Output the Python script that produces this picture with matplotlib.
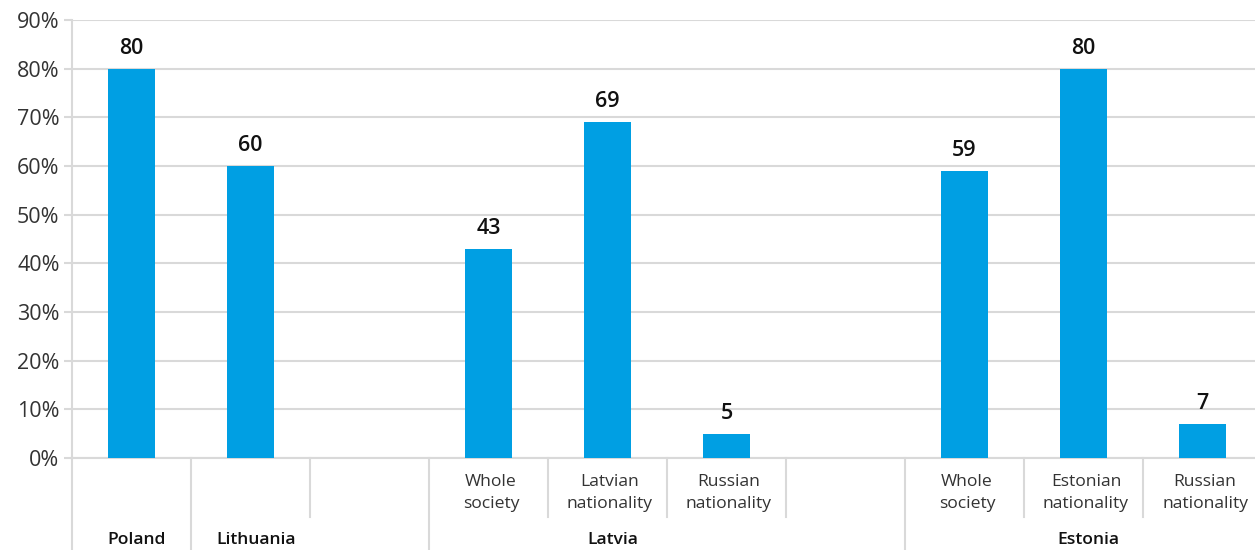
import matplotlib
matplotlib.use("Agg")
import matplotlib.pyplot as plt
import matplotlib.transforms as mtransforms

plt.rcParams['font.family'] = ['Open Sans', 'DejaVu Sans']

# Data
sub_labels = ["", "", "", "Whole\nsociety", "Latvian\nnationality", "Russian\nnationality",
              "", "Whole\nsociety", "Estonian\nnationality", "Russian\nnationality"]
values = [80, 60, None, 43, 69, 5, None, 59, 80, 7]
group_labels = ["Poland", "Lithuania", "Latvia", "Estonia"]
group_label_pos = [0.04, 1.05, 4.04, 8.04]
full_separators = [-0.5, 0.5, 2.5, 6.5]
short_separators = [1.5, 3.5, 4.5, 5.5, 7.5, 8.5]
yticks = [0, 10, 20, 30, 40, 50, 60, 70, 80, 90]

bar_color = "#009FE3"
grid_color = "#d9d9d9"

W, H = 1255, 550
fig = plt.figure(figsize=(W / 100, H / 100), dpi=100)
ax = fig.add_axes([72 / W, 1 - 458 / H, 1 - 72 / W, (458 - 20) / H])

xs = list(range(len(values)))
for x, v in zip(xs, values):
    if v is None:
        continue
    ax.bar(x, v, width=0.40, color=bar_color, zorder=3)
    ax.annotate(f"{v}", (x, v), xytext=(0, 7), textcoords="offset points",
                ha="center", va="bottom", fontsize=15.5, fontweight="semibold", color="#111111")

ax.set_ylim(0, 90)
ax.set_xlim(-0.5, 9.44)
ax.set_yticks(yticks)
ax.set_yticklabels([f"{t}%" for t in yticks], fontsize=15.5, color="#333333")
ax.set_xticks([])
ax.yaxis.grid(True, color=grid_color, linewidth=1.5, zorder=0)
ax.set_axisbelow(True)
for s in ["top", "right"]:
    ax.spines[s].set_visible(False)
ax.spines["left"].set_color(grid_color)
ax.spines["left"].set_linewidth(1.5)
ax.spines["bottom"].set_color(grid_color)
ax.spines["bottom"].set_linewidth(1.5)
ax.tick_params(axis="y", length=6, width=1.5, color=grid_color, pad=3)

trans = mtransforms.blended_transform_factory(ax.transData, ax.transAxes)
ax_h = 438.0
y_short = -(517 - 458) / ax_h
y_full = -(552 - 458) / ax_h
for xs_ in full_separators:
    ax.plot([xs_, xs_], [0, y_full], transform=trans, color=grid_color, lw=1.5, clip_on=False)
for xs_ in short_separators:
    ax.plot([xs_, xs_], [0, y_short], transform=trans, color=grid_color, lw=1.5, clip_on=False)

for x, lab in zip(xs, sub_labels):
    if lab:
        ax.text(x + 0.02, -(493 - 458) / ax_h, lab, transform=trans, ha="center", va="center",
                fontsize=12.6, color="#333333", linespacing=1.55)

for pos, lab in zip(group_label_pos, group_labels):
    ax.text(pos, -(540 - 458) / ax_h, lab, transform=trans, ha="center", va="center",
            fontsize=12.6, fontweight="semibold", color="#111111")

fig.savefig("out.png", dpi=100)
